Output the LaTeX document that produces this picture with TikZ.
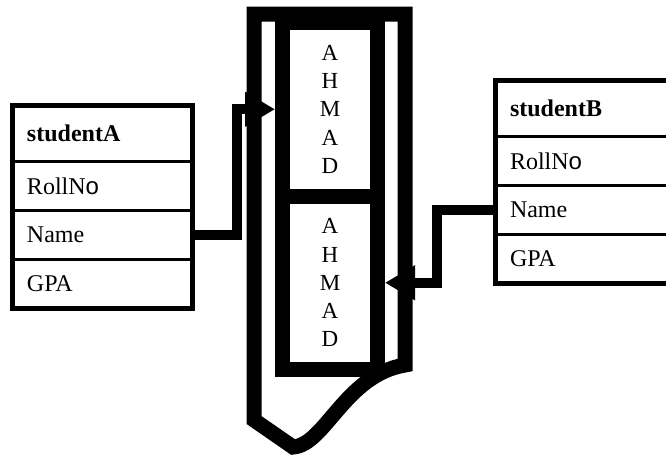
\documentclass[tikz,border=0pt]{standalone}
\usepackage{fontspec}
\setmainfont{Liberation Serif}
\newfontfamily\arialfont{Liberation Sans}
\usetikzlibrary{arrows.meta, positioning}

\begin{document}
\begin{tikzpicture}[
    x=1pt, y=-1pt,
    every node/.style={outer sep=0pt},
    rowbox/.style={draw, line width=3.5pt, inner xsep=14.5pt, text width=151pt, align=left, minimum height=49pt, font=\fontsize{24}{28}\selectfont},
    headrow/.style={rowbox, minimum height=56pt, font=\fontsize{24}{28}\selectfont\bfseries},
    cell/.style={draw, line width=15pt, outer sep=7.5pt, minimum width=95pt, minimum height=173.5pt, inner sep=0pt, align=center, font=\fontsize{23}{28.3}\selectfont},
    frame/.style={draw, line width=15pt, miter limit=10},
    link/.style={draw, line width=10pt, -{Triangle[length=30pt, width=33pt]}}
]
\useasboundingbox (0,0) rectangle (666,456);
\draw[frame] (405,365) -- (405,14) -- (254,14) -- (254,420) -- (293,447) .. controls (325,445) and (345,375) .. cycle;
\node[cell] (cellA) at (330,109.25) {A\\H\\M\\A\\D};
\node[cell] (cellB) at (330,282.75) {A\\H\\M\\A\\D};
\node[headrow] (headA) at (102.5,133.5) {studentA};
\node[rowbox, below=0pt of headA] (rollA) {RollN{\arialfont o}};
\node[rowbox, below=0pt of rollA] (nameA) {Name};
\node[rowbox, below=0pt of nameA] (gpaA) {GPA};
\draw[line width=5.5pt] (headA.north west) rectangle (gpaA.south east);
\node[headrow] (headB) at (585.5,108.5) {studentB};
\node[rowbox, below=0pt of headB] (rollB) {RollN{\arialfont o}};
\node[rowbox, below=0pt of rollB] (nameB) {Name};
\node[rowbox, below=0pt of nameB] (gpaB) {GPA};
\draw[line width=5.5pt] (headB.north west) rectangle (gpaB.south east);
\draw[link] (nameA.east) -- ++(44.5,0) |- (cellA.west);
\draw[link] (nameB.west) -- ++(-58.5,0) |- (cellB.east);
\end{tikzpicture}
\end{document}
